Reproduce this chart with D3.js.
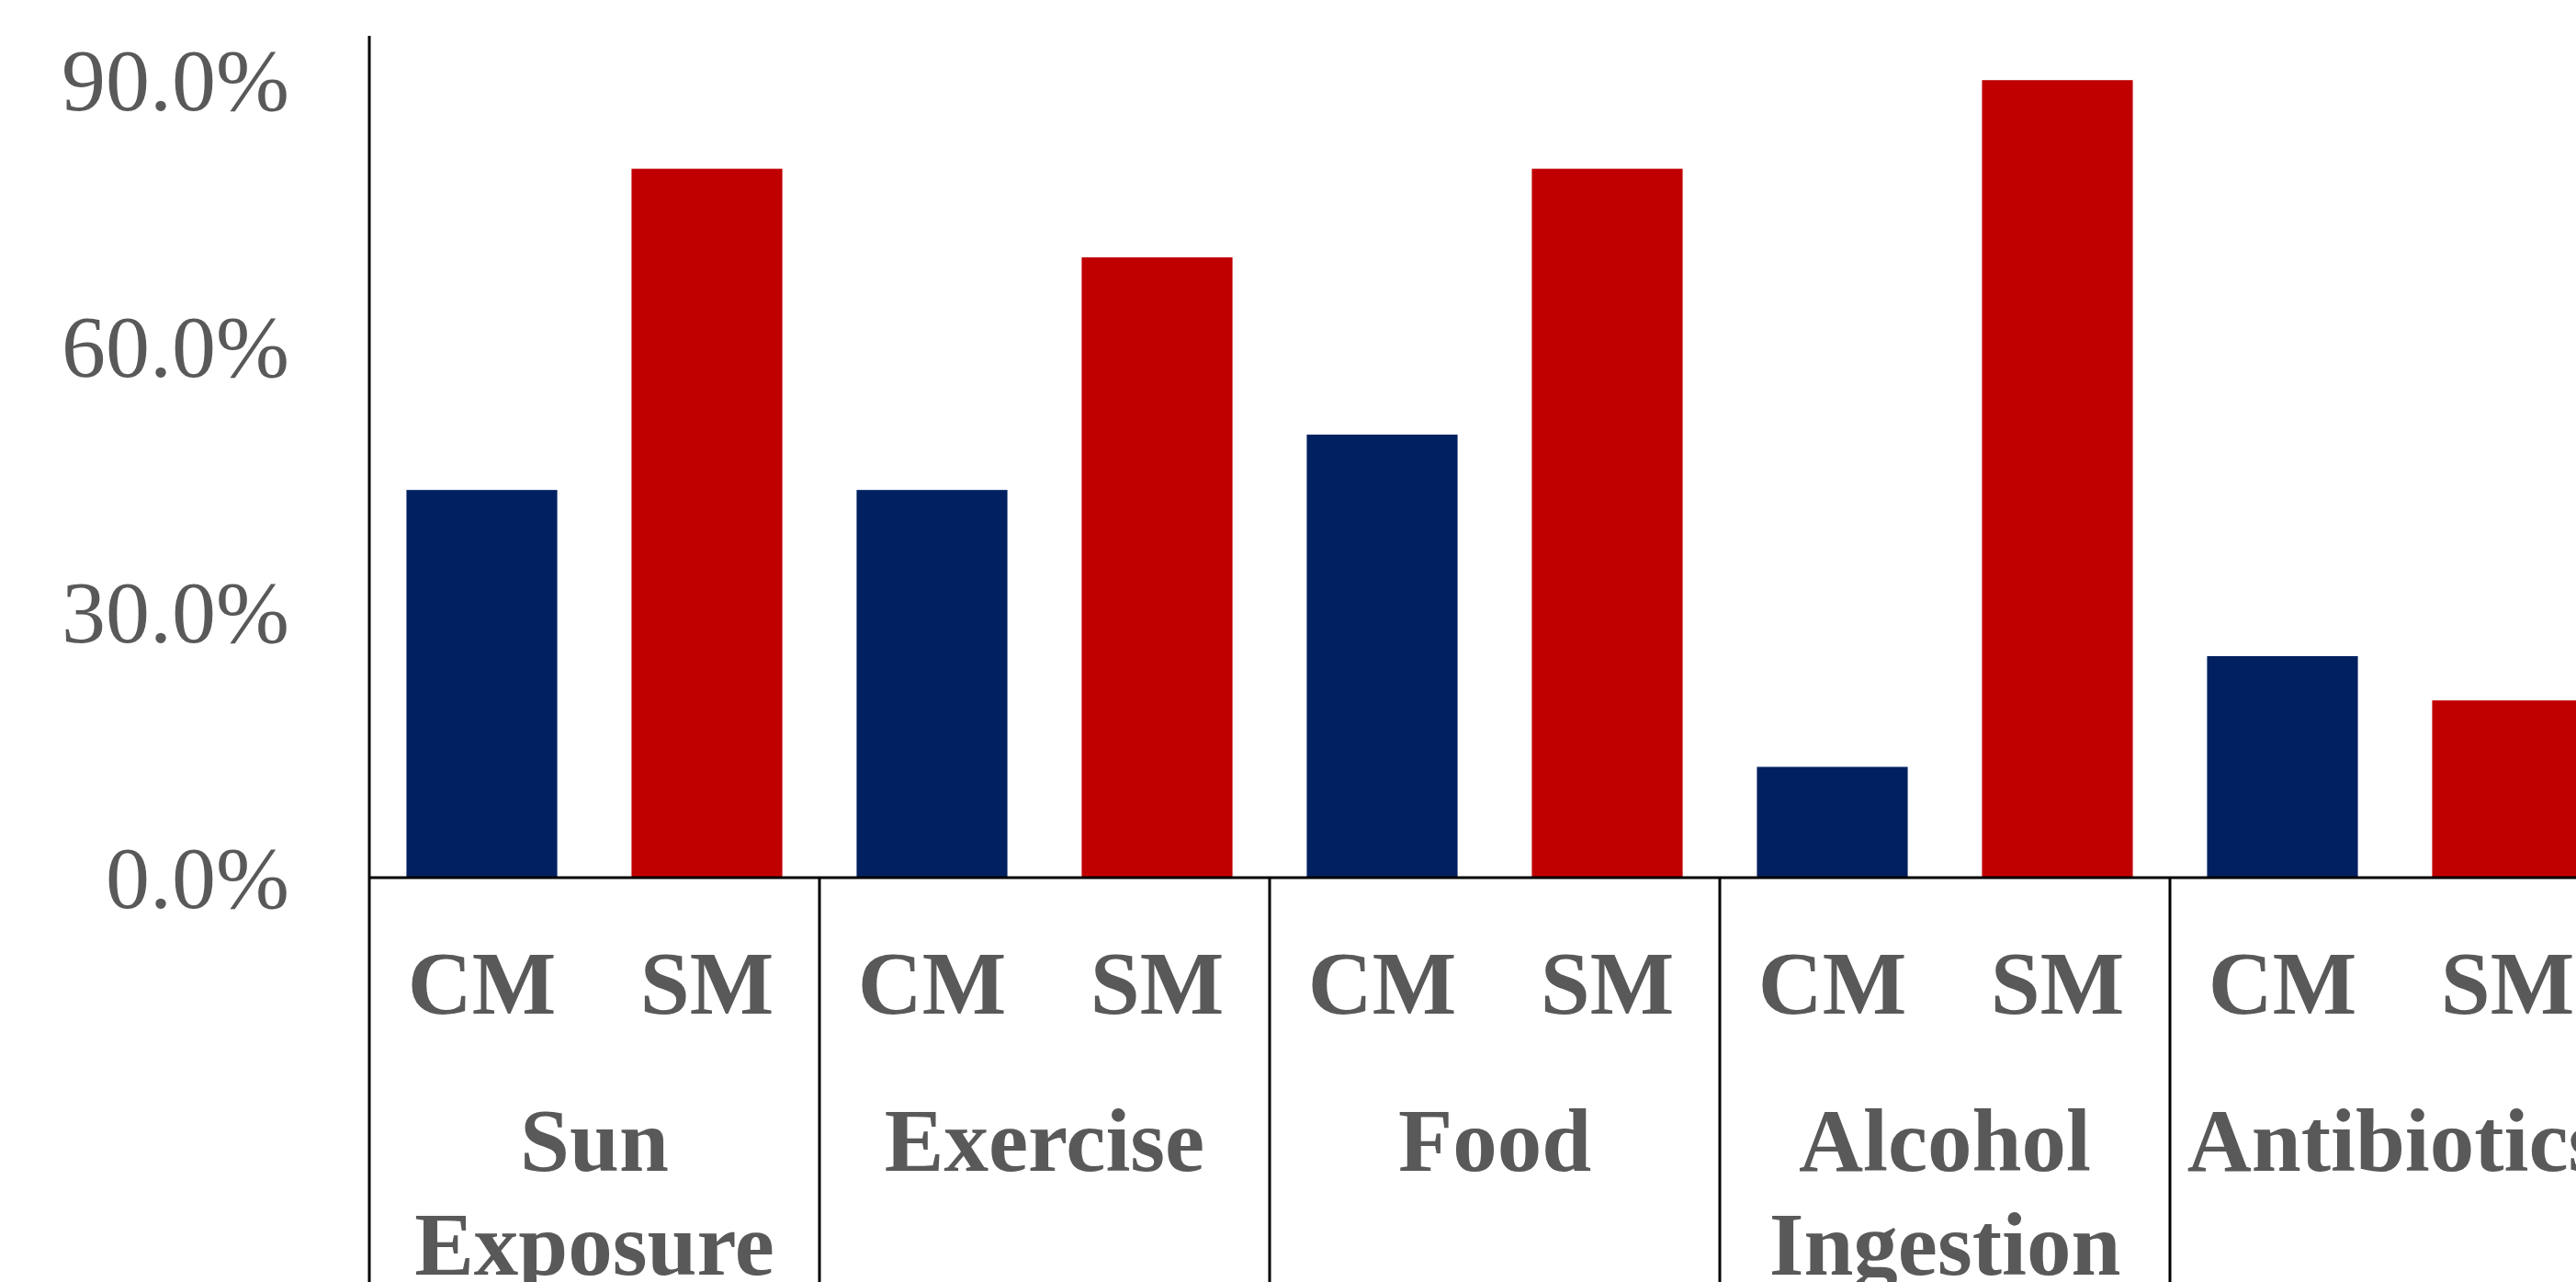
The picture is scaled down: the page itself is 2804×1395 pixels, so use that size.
<!DOCTYPE html>
<html>
<head>
<meta charset="utf-8">
<script src="https://cdn.jsdelivr.net/npm/d3@7"></script>
<style>
  html, body { margin: 0; padding: 0; background: #ffffff; }
  svg { display: block; }
  text { font-family: "Book Antiqua", "Palatino Linotype", Palatino, "URW Palladio L", "P052", "Liberation Serif", serif; fill: #595959; }
</style>
</head>
<body>
<svg id="chart" width="2804" height="1395"></svg>
<script>
// ---- data ----
const categories = ["Sun Exposure", "Exercise", "Food", "Alcohol Ingestion", "Antibiotics"];
const categoryLines = [["Sun", "Exposure"], ["Exercise"], ["Food"], ["Alcohol", "Ingestion"], ["Antibiotics"]];
const seriesNames = ["CM", "SM"];
const cmValues = [0.4375, 0.4375, 0.50, 0.125, 0.25];
const smValues = [0.80, 0.70, 0.80, 0.90, 0.20];
const yTicks = [0, 0.30, 0.60, 0.90];
const seriesColors = ["#002060", "#C00000"];

// ---- layout ----
const W = 2804, H = 1395;
const x0 = 402, plotRight = 2852;   // plot continues past the right edge (cropped)
const yBase = 955, yTop = 39;

const svg = d3.select("#chart");

const x = d3.scaleBand().domain(categories).range([x0, plotRight]).paddingInner(0).paddingOuter(0);
const xs = d3.scaleBand().domain(seriesNames).range([0, x.bandwidth()]).paddingInner(0.33).paddingOuter(0.165);
const y = d3.scaleLinear().domain([0, 0.95]).range([yBase, yTop]);
const color = d3.scaleOrdinal().domain(seriesNames).range(seriesColors);

const rows = categories.map((c, i) => ({ cat: c, values: [cmValues[i], smValues[i]] }));

// bars
const g = svg.append("g");
rows.forEach(r => {
  seriesNames.forEach((s, j) => {
    g.append("rect")
      .attr("x", x(r.cat) + xs(s))
      .attr("y", y(r.values[j]))
      .attr("width", xs.bandwidth())
      .attr("height", y(0) - y(r.values[j]))
      .attr("fill", color(s));
  });
});

// y axis
const yAxis = d3.axisLeft(y).tickValues(yTicks).tickFormat(d3.format(".1%")).tickSize(0).tickPadding(87);
const ya = svg.append("g").attr("transform", `translate(${x0},0)`).call(yAxis);
ya.select(".domain").remove();
ya.selectAll("text")
  .attr("font-size", 96)
  .attr("fill", "#595959")
  .style("font-family", null)
  .attr("dy", "0.34em");

// axis lines
svg.append("line").attr("x1", x0).attr("x2", x0).attr("y1", y.range()[1]).attr("y2", H)
  .attr("stroke", "#000").attr("stroke-width", 3);
svg.append("line").attr("x1", x0).attr("x2", W).attr("y1", y(0)).attr("y2", y(0))
  .attr("stroke", "#000").attr("stroke-width", 3);

// category dividers
categories.forEach(c => {
  const bx = x(c) + x.bandwidth();
  if (bx < W) {
    svg.append("line").attr("x1", bx).attr("x2", bx).attr("y1", y(0)).attr("y2", H)
      .attr("stroke", "#000").attr("stroke-width", 3);
  }
});

// series labels (inner level)
categories.forEach(c => {
  seriesNames.forEach(s => {
    svg.append("text")
      .attr("x", x(c) + xs(s) + xs.bandwidth() / 2)
      .attr("y", 1103)
      .attr("text-anchor", "middle")
      .attr("font-size", 97)
      .attr("font-weight", "bold")
      .text(s);
  });
});

// category labels (outer level)
categories.forEach((c, i) => {
  const t = svg.append("text")
    .attr("x", x(c) + x.bandwidth() / 2)
    .attr("y", 1274)
    .attr("text-anchor", "middle")
    .attr("font-size", 97)
    .attr("font-weight", "bold");
  categoryLines[i].forEach((ln, k) => {
    t.append("tspan").attr("x", x(c) + x.bandwidth() / 2).attr("dy", k === 0 ? 0 : 113).text(ln);
  });
});
</script>
</body>
</html>
